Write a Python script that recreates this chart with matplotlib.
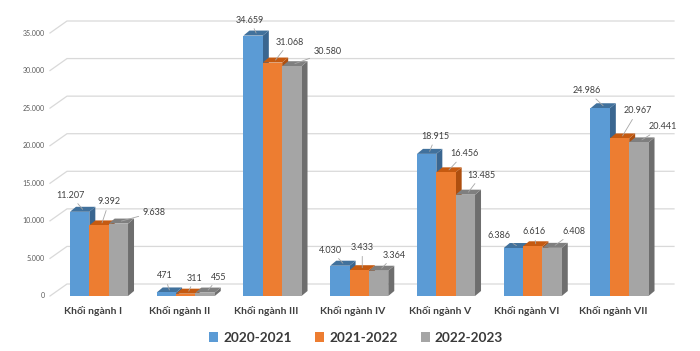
import matplotlib
matplotlib.use('Agg')
import matplotlib.pyplot as plt
from matplotlib.patches import Polygon, Patch

plt.rcParams['font.family'] = ['Lato', 'DejaVu Sans']

# data
categories = ['Khối ngành I', 'Khối ngành II', 'Khối ngành III', 'Khối ngành IV',
              'Khối ngành V', 'Khối ngành VI', 'Khối ngành VII']
series_names = ['2020-2021', '2021-2022', '2022-2023']
y2020 = [11207, 471, 34659, 4030, 18915, 6386, 24986]
y2021 = [9392, 311, 31068, 3433, 16456, 6616, 20967]
y2022 = [9638, 455, 30580, 3364, 13485, 6408, 20441]
yticks = [0, 5000, 10000, 15000, 20000, 25000, 30000, 35000]

# styles
front = ['#5B9BD5', '#ED7D31', '#A5A5A5']
top = ['#41719C', '#C55A11', '#7F7F7F']
side = ['#3A6690', '#AE4F0F', '#6E6E6E']

# label offsets in pixels (right, up) from bar top
label_off = [
    [(-12, 14), (7, 21), (33, 9)],
    [(-5, 14), (6, 13), (11, 13)],
    [(-6, 13), (14, 18), (33, 12)],
    [(-12, 13), (0, 20), (13, 13)],
    [(6, 15), (15, 16), (13, 17)],
    [(-17, 10), (-2, 12), (19, 14)],
    [(-16, 15), (15, 25), (21, 13)],
]


def fmt(v):
    return f'{v:,}'.replace(',', '.')


fig = plt.figure(figsize=(7, 3.51), dpi=100)
step = 86.75          # px per category
x_lo, x_hi = -0.55, 6.55
y_hi = 35000
base_px, top_px = 296, 33
left_px = 99 + x_lo * step
ax = fig.add_axes([left_px / 700, (351 - base_px) / 351,
                   (x_hi - x_lo) * step / 700, (base_px - top_px) / 351])
ax.set_xlim(x_lo, x_hi)
ax.set_ylim(0, y_hi)
for s in ax.spines.values():
    s.set_visible(False)
ax.set_yticks([])

px_y = (base_px - top_px) / y_hi   # px per unit value

# back-wall gridlines with diagonal floor edge
gdx, gdy = 17 / step, 12 / px_y
gx0 = x_lo - 1.3 / step
gx1 = (674 - 99) / step
for v in yticks:
    ax.plot([gx0, gx0 + gdx, gx1], [v, v + gdy, v + gdy], color='#d9d9d9',
            lw=0.9, clip_on=False, zorder=0)
    ax.text(gx0 - 5 / step, v, fmt(v), ha='right', va='center',
            fontsize=5, color='#595959')

# 3d-ish bars
w = 0.223
bdx, bdy = 6 / step, 5 / px_y
all_series = [y2020, y2021, y2022]
z = 2
for i in range(len(categories)):
    for k, vals in enumerate(all_series):
        v = vals[i]
        xl = i + (k - 1.5) * w
        xr = xl + w
        ax.add_patch(Polygon([(xl, 0), (xr, 0), (xr, v), (xl, v)], closed=True,
                             facecolor=front[k], edgecolor='none', zorder=z + 0.2,
                             clip_on=False))
        ax.add_patch(Polygon([(xr, 0), (xr + bdx, bdy), (xr + bdx, v + bdy), (xr, v)],
                             closed=True, facecolor=side[k], edgecolor='none',
                             zorder=z, clip_on=False))
        ax.add_patch(Polygon([(xl, v), (xr, v), (xr + bdx, v + bdy), (xl + bdx, v + bdy)],
                             closed=True, facecolor=top[k], edgecolor='none',
                             zorder=z + 0.1, clip_on=False))
        z += 1
        ox, oy = label_off[i][k]
        ax.annotate(fmt(v), xy=(xl + w / 2 + bdx / 2, v + bdy / 2),
                    xytext=(ox * 0.72, oy * 0.72), textcoords='offset points',
                    ha='center', va='center', fontsize=6.5, color='#404040',
                    arrowprops=dict(arrowstyle='-', color='#a6a6a6', lw=0.6,
                                    shrinkA=1, shrinkB=0),
                    zorder=100)

ax.set_xticks([i - 0.07 for i in range(len(categories))])
ax.set_xticklabels(categories, fontsize=7.5, fontweight='bold', color='#404040')
ax.tick_params(axis='x', length=0, pad=7.5)

handles = [Patch(facecolor=c, edgecolor='none') for c in front]
leg = fig.legend(handles, series_names, loc='center', ncol=3,
                 bbox_to_anchor=(356 / 700, 1 - 338 / 351), frameon=False,
                 prop={'size': 9.8, 'weight': 'bold'}, handlelength=0.7,
                 handleheight=0.7, handletextpad=0.35, columnspacing=1.7)
for t in leg.get_texts():
    t.set_color('#3a3a3a')

fig.savefig('out.png', dpi=100)
